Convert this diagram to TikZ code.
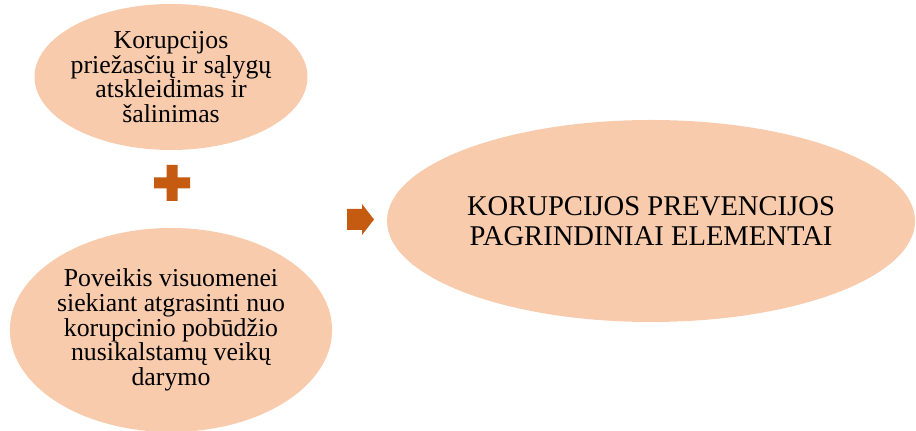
\documentclass[tikz,border=0pt]{standalone}
\usepackage{fontspec}
\setmainfont{Liberation Serif}
\usetikzlibrary{shapes.geometric}
\definecolor{peach}{HTML}{F8CBAD}
\definecolor{rust}{HTML}{C55A11}
\tikzset{
  oval/.style={ellipse, fill=peach, inner sep=0pt, align=center,
    font=\fontsize{12.9}{12.3}\selectfont},
  mark shape/.style={fill=rust}
}
\begin{document}
\begin{tikzpicture}[x=0.5pt, y=-0.5pt]
    \useasboundingbox (0,0) rectangle (916,431);

    % Two source ovals on the left
    \node[oval, inner xsep=-4pt, minimum width=136.5pt, minimum height=73pt] (causes) at (171,77)
      {Korupcijos\\priežasčių ir sąlygų\\atskleidimas ir\\šalinimas};
    \node[oval, minimum width=159pt, minimum height=102pt] (impact) at (171,330)
      {Poveikis visuomenei\\siekiant atgrasinti nuo\\korupcinio pobūdžio\\nusikalstamų veikų\\darymo};

    % Result oval on the right
    \node[oval, minimum width=264pt, minimum height=101pt,
      font=\fontsize{14.3}{15}\selectfont] (elements) at (651,221)
      {KORUPCIJOS PREVENCIJOS\\PAGRINDINIAI ELEMENTAI};

    % Plus sign between the two ovals
    \coordinate (plus) at (172,183);
    \fill[mark shape] ([shift={(-5.5,-18)}]plus) -- ++(11,0) -- ++(0,12.5) -- ++(12.5,0)
      -- ++(0,11) -- ++(-12.5,0) -- ++(0,12.5) -- ++(-11,0) -- ++(0,-12.5)
      -- ++(-12.5,0) -- ++(0,-11) -- ++(12.5,0) -- cycle;

    % Arrow towards the result
    \coordinate (arrow) at (347,219.5);
    \fill[mark shape] ([shift={(0,-10.5)}]arrow) -- ++(15,0) -- ++(0,-5) -- ++(12,15.5)
      -- ++(-12,15.5) -- ++(0,-5) -- ++(-15,0) -- cycle;
  \end{tikzpicture}
\end{document}
